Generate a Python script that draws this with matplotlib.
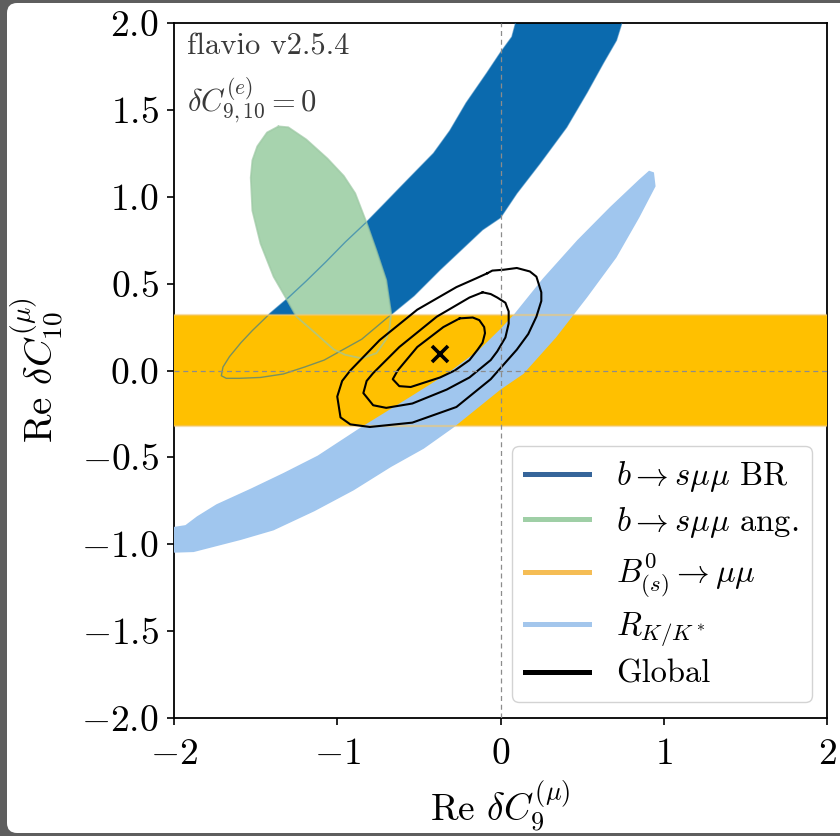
import matplotlib
matplotlib.use("Agg")
import matplotlib.pyplot as plt
from matplotlib.lines import Line2D
from matplotlib.patches import FancyBboxPatch, Polygon
import numpy as np

plt.rcParams.update({
    "font.family": "serif",
    "font.serif": ["cmr10"],
    "mathtext.fontset": "cm",
    "axes.formatter.use_mathtext": True,
    "axes.unicode_minus": True,
})

# ---------------- data ----------------
# b -> s mu mu BR region (boundary)
br_x = [0.12, 0.09, 0.07, 0.00, -0.085, -0.21, -0.31, -0.41, -0.51, -0.62, -0.72,
        -0.82, -0.95, -1.07, -1.19, -1.31, -1.41,
        -1.52, -1.59, -1.66, -1.70, -1.71, -1.68, -1.60, -1.47, -1.33, -1.20, -1.08,
        -0.85, -0.66, -0.53, -0.37, -0.11, 0.00, 0.10, 0.24, 0.405, 0.53, 0.63,
        0.71, 0.74, 0.77]
br_y = [2.15, 1.99, 1.92, 1.83, 1.71, 1.54, 1.38, 1.25, 1.154, 1.048, 0.951,
        0.855, 0.74, 0.625, 0.515, 0.41, 0.33,
        0.23, 0.16, 0.08, 0.02, -0.03, -0.045, -0.045, -0.04, -0.02, 0.02, 0.06,
        0.18, 0.33, 0.43, 0.58, 0.81, 0.88, 1.02, 1.19, 1.40, 1.60, 1.77,
        1.90, 1.99, 2.15]

# b -> s mu mu angular region
ang_x = [-1.36, -1.30, -1.19, -1.06, -0.96, -0.89, -0.82, -0.76, -0.70, -0.67,
         -0.68, -0.70, -0.76, -0.85, -0.95, -1.02, -1.14, -1.25, -1.31, -1.39,
         -1.47, -1.52, -1.53, -1.52, -1.49, -1.43]
ang_y = [1.405, 1.40, 1.33, 1.22, 1.12, 1.02, 0.85, 0.69, 0.52, 0.33,
         0.24, 0.18, 0.10, 0.07, 0.09, 0.12, 0.22, 0.31, 0.41, 0.54,
         0.73, 0.92, 1.11, 1.21, 1.29, 1.37]

# B_(s) -> mu mu band
bs_low, bs_high = -0.32, 0.32

# R_K/K* region
rk_x = [-2.05, -2.00, -1.93, -1.86, -1.74, -1.53, -1.33, -1.12, -0.86, -0.55, -0.33,
        -0.13, 0.00, 0.08, 0.26, 0.47, 0.67, 0.85, 0.91, 0.94,
        0.95, 0.85, 0.71, 0.53, 0.34, 0.14, 0.00, -0.29, -0.47, -0.67, -0.90,
        -1.14, -1.39, -1.59, -1.88, -2.05]
rk_y = [-0.90, -0.90, -0.89, -0.84, -0.77, -0.68, -0.59, -0.49, -0.33, -0.15, -0.02,
        0.12, 0.24, 0.32, 0.53, 0.75, 0.94, 1.10, 1.15, 1.14,
        1.06, 0.88, 0.65, 0.42, 0.19, -0.02, -0.11, -0.33, -0.45, -0.555, -0.69,
        -0.81, -0.92, -0.975, -1.045, -1.05]

# Global fit contours (1, 2, 3 sigma)
g1_x = [-0.25, -0.17, -0.13, -0.10, -0.095, -0.11, -0.14, -0.19, -0.28, -0.37, -0.55,
        -0.62, -0.66, -0.63, -0.51, -0.35]
g1_y = [0.30, 0.305, 0.29, 0.25, 0.215, 0.16, 0.12, 0.06, 0.0, -0.04, -0.095,
        -0.09, -0.05, 0.0, 0.135, 0.25]
g2_x = [-0.11, -0.06, -0.02, 0.03, 0.05, 0.05, 0.03, -0.02, -0.06, -0.19, -0.33, -0.54,
        -0.70, -0.78, -0.84, -0.82, -0.78, -0.62, -0.39, -0.19]
g2_y = [0.45, 0.44, 0.42, 0.39, 0.34, 0.27, 0.19, 0.11, 0.06, -0.04, -0.11, -0.19,
        -0.215, -0.20, -0.13, -0.06, -0.015, 0.135, 0.31, 0.42]
g3_x = [-0.08, -0.05, 0.02, 0.10, 0.18, 0.22, 0.25, 0.25, 0.22, 0.17, 0.10, -0.06,
        -0.27, -0.54, -0.80, -0.92, -0.98, -1.00, -0.97, -0.92, -0.74, -0.51, -0.27, -0.15]
g3_y = [0.56, 0.575, 0.58, 0.59, 0.57, 0.54, 0.45, 0.40, 0.31, 0.21, 0.12, -0.05,
        -0.21, -0.30, -0.325, -0.31, -0.27, -0.15, -0.06, 0.0, 0.175, 0.35, 0.48, 0.53]
best_fit = (-0.37, 0.095)

legend_labels = [r"$b\to s\mu\mu$ BR", r"$b\to s\mu\mu$ ang.",
                 r"$B_{(s)}^0\to\mu\mu$", r"$R_{K/K^*}$", "Global"]

# ---------------- colours ----------------
c_br = "#0b6aae"
c_ang = "#a7d3ae"
c_bs = "#ffc000"
c_rk = "#a0c6ee"
leg_colors = ["#36659a", "#9fcfa6", "#f5bd55", "#a3c6ec", "black"]

# ---------------- figure ----------------
fig = plt.figure(figsize=(8.4, 8.36), dpi=100)
fig.patch.set_facecolor("#5e5e5e")
W, H = 840, 836
bg = FancyBboxPatch((7 / W, 3 / H), 1.05, (830) / H,
                    boxstyle="round,pad=0,rounding_size=0.012",
                    transform=fig.transFigure, facecolor="white",
                    edgecolor="none", zorder=-10)
fig.patches.append(bg)

ax = fig.add_axes([174 / W, 1 - 718 / H, 653 / W, 695 / H])
ax.set_xlim(-2, 2)
ax.set_ylim(-2, 2)

ax.add_patch(Polygon(np.column_stack([br_x, br_y]), closed=True,
                     facecolor=c_br, edgecolor="none", zorder=1))
ax.add_patch(Polygon(np.column_stack([ang_x, ang_y]), closed=True,
                     facecolor=c_ang, edgecolor="none", zorder=2))
ax.fill_between([-2.1, 2.1], bs_low, bs_high, facecolor=c_bs,
                edgecolor="none", zorder=3)
ax.add_patch(Polygon(np.column_stack([rk_x, rk_y]), closed=True,
                     facecolor=c_rk, edgecolor="none", zorder=4))

# contour outlines
ax.plot(br_x, br_y, color=c_br, lw=1.0, alpha=0.55, zorder=5)
ax.plot(ang_x + ang_x[:1], ang_y + ang_y[:1], color="#9cc8a3", lw=1.3,
        alpha=0.7, zorder=5)
for yy in (bs_low, bs_high):
    ax.plot([-2.1, 2.1], [yy, yy], color="#f3c870", lw=1.6, alpha=0.6, zorder=5)

for gx, gy in ((g1_x, g1_y), (g2_x, g2_y), (g3_x, g3_y)):
    ax.plot(gx + gx[:1], gy + gy[:1], color="black", lw=1.5, zorder=6)
ax.plot([best_fit[0]], [best_fit[1]], marker="x", color="black", ms=11,
        mew=2.6, zorder=7)

ax.axvline(0, color="#8c8c8c", lw=0.9, ls=(0, (4, 3)), zorder=8)
ax.axhline(0, color="#8c8c8c", lw=0.9, ls=(0, (4, 3)), zorder=8)

ax.set_xticks([-2, -1, 0, 1, 2])
ax.set_yticks([-2.0, -1.5, -1.0, -0.5, 0.0, 0.5, 1.0, 1.5, 2.0])
ax.set_yticklabels([r"$-2.0$", r"$-1.5$", r"$-1.0$", r"$-0.5$", r"$0.0$",
                    r"$0.5$", r"$1.0$", r"$1.5$", r"$2.0$"])
ax.set_xticklabels([r"$-2$", r"$-1$", r"$0$", r"$1$", r"$2$"])
ax.tick_params(direction="out", length=5, width=1.2, labelsize=27)
ax.tick_params(axis="x", pad=9)
ax.tick_params(axis="y", pad=6)
for s in ax.spines.values():
    s.set_linewidth(1.3)

ax.set_xlabel(r"Re $\delta C_9^{(\mu)}$", fontsize=27)
ax.set_ylabel(r"Re $\delta C_{10}^{(\mu)}$", fontsize=28)
ax.xaxis.set_label_coords(0.5, -0.088)
ax.yaxis.set_label_coords(-0.165, 0.5)

ax.text(0.02, 0.985, "flavio v2.5.4", transform=ax.transAxes, fontsize=22,
        va="top", ha="left", color="#3a3a3a", zorder=9)
ax.text(0.02, 0.925, r"$\delta C_{9,10}^{(e)}=0$", transform=ax.transAxes,
        fontsize=22, va="top", ha="left", color="#3a3a3a", zorder=9)

handles = [Line2D([0], [0], color=c, lw=3.6) for c in leg_colors]
leg = ax.legend(handles, legend_labels, loc="lower right",
                bbox_to_anchor=(0.977, 0.023), borderaxespad=0, fontsize=23.5,
                handlelength=1.96, handletextpad=0.83, labelspacing=0.33,
                frameon=True, fancybox=True, framealpha=0.85,
                edgecolor="#cccccc", borderpad=0.4)
leg.set_zorder(10)

fig.savefig("out.png", dpi=100, facecolor=fig.get_facecolor())
